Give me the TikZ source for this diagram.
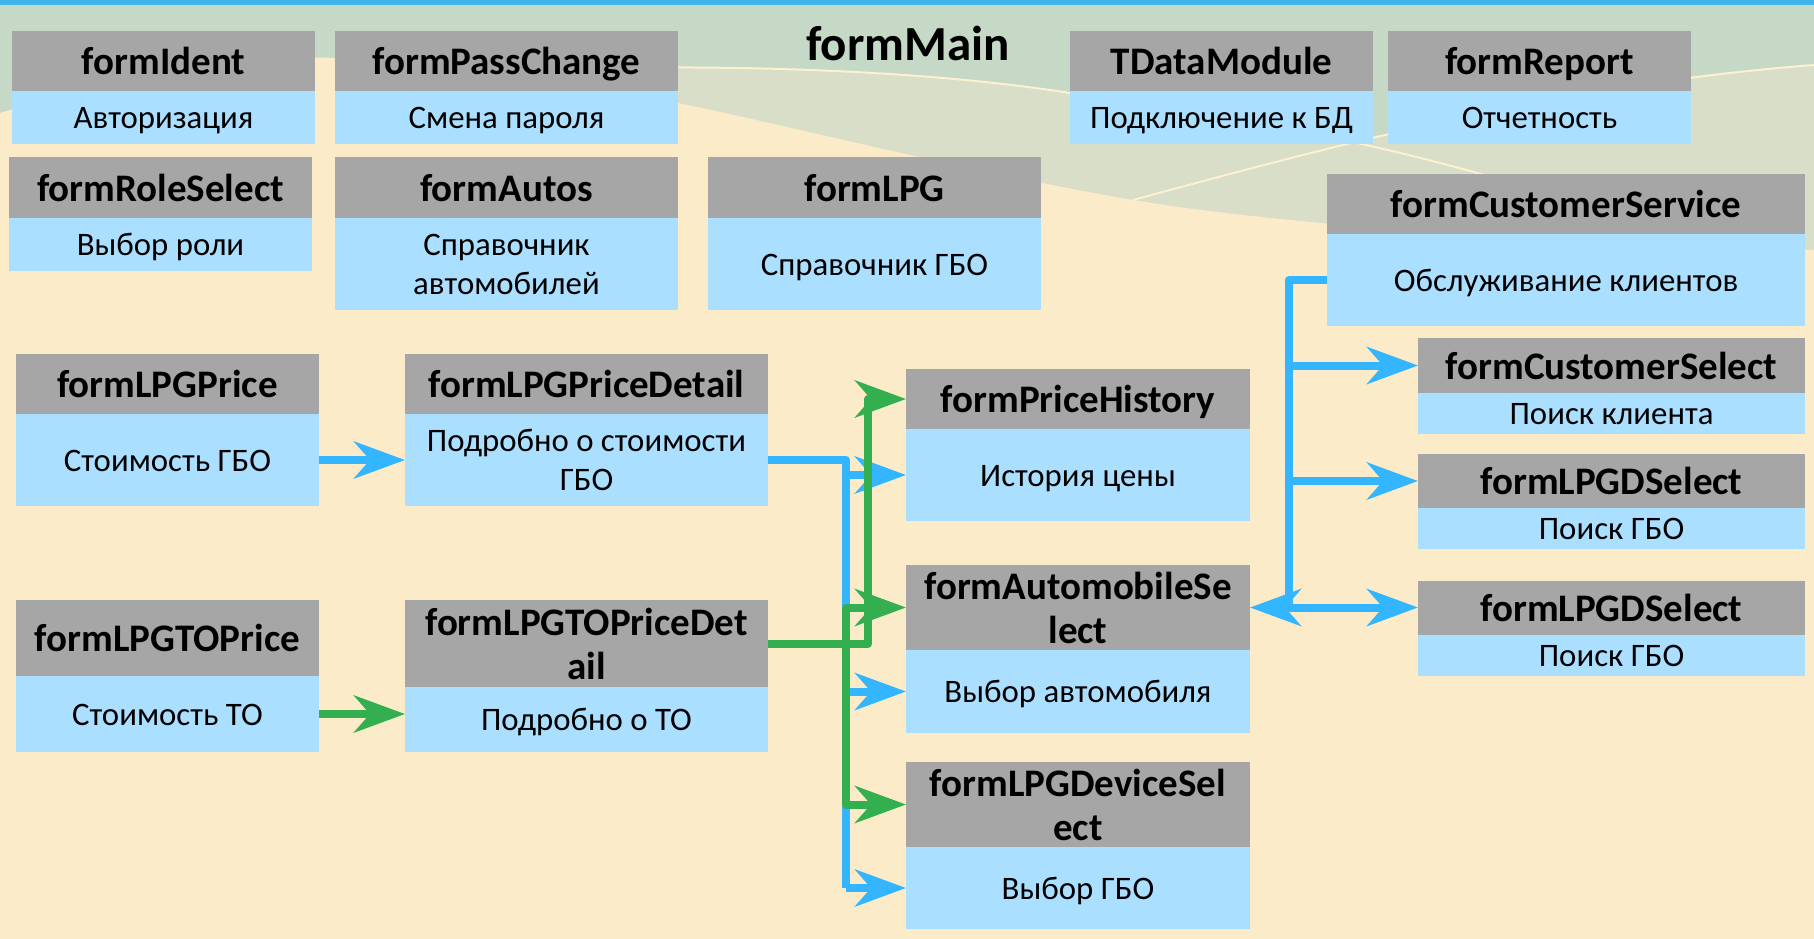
\documentclass[tikz,border=0pt]{standalone}
\usepackage{fontspec}
\setmainfont{Carlito}
\usetikzlibrary{arrows.meta}
\definecolor{bgGreen}{HTML}{C6D8C6}
\definecolor{bgLight}{HTML}{D8DEC8}
\definecolor{bgCream}{HTML}{FCEBC8}
\definecolor{bgLine}{HTML}{FDF1D2}
\definecolor{topBlue}{HTML}{41B3EB}
\definecolor{hdrGray}{HTML}{A6A6A6}
\definecolor{bodyBlue}{HTML}{AADFFF}
\definecolor{lnBlue}{HTML}{33B5FF}
\definecolor{lnGreen}{HTML}{33AF50}
\newcommand\fixh[1]{\raisebox{0pt}[0.7em][0pt]{#1}}
\newcommand\formbox[8]{%
  \node[hdr, minimum width={#3-#2}, minimum height={#5-#4}] (#1h) at (#2,#4) {#7};
  \node[bdy, minimum width={#3-#2}, minimum height={#6-#5}] (#1b) at (#2,#5) {#8};
}
\tikzset{
  hdr/.style={fill=hdrGray, inner sep=0pt, outer sep=0pt, align=center, anchor=north west,
    font=\bfseries\fontsize{39}{44}\selectfont},
  bdy/.style={fill=bodyBlue, inner sep=0pt, outer sep=0pt, align=center, anchor=north west,
    font=\fontsize{32.8}{39}\selectfont},
  bline/.style={draw=lnBlue, line width=8pt, line join=round},
  gline/.style={draw=lnGreen, line width=8pt, line join=round},
  bconn/.style={bline, -{Stealth[length=51pt,width=37pt,inset=16pt]}},
  gconn/.style={gline, -{Stealth[length=51pt,width=37pt,inset=16pt]}},
  bdbl/.style={bline, {Stealth[length=51pt,width=37pt,inset=16pt]}-{Stealth[length=51pt,width=37pt,inset=16pt]}},
  bgline/.style={draw=bgLine, line width=2pt}
}
\begin{document}
\begin{tikzpicture}[x=1pt,y=-1pt]
\useasboundingbox (0,0) rectangle (1814,939);
% background
\fill[bgGreen] (0,0) rectangle (1814,939);
\fill[bgLight] (600,68) .. controls (850,64) and (1000,82) .. (1070,93)
  .. controls (1180,108) and (1280,125) .. (1357,143)
  .. controls (1500,105) and (1650,75) .. (1814,65) -- (1814,400) -- (600,400) -- cycle;
\fill[bgCream] (0,113) .. controls (120,75) and (250,55) .. (340,58)
  .. controls (450,62) and (550,80) .. (678,103)
  .. controls (800,128) and (950,168) .. (1133,200)
  .. controls (1300,228) and (1600,245) .. (1814,250) -- (1814,939) -- (0,939) -- cycle;
\draw[bgline] (600,68) .. controls (850,64) and (1000,82) .. (1070,93)
  .. controls (1180,108) and (1280,125) .. (1357,143)
  .. controls (1420,157) and (1460,168) .. (1520,185);
\draw[bgline] (1133,200) .. controls (1300,155) and (1550,85) .. (1814,65);
\fill[topBlue] (0,0) rectangle (1814,5);
% title
\node[font=\bfseries\fontsize{49}{55}\selectfont, inner sep=0pt] (mainT) at (908,43) {\fixh{formMain}};
% boxes
\formbox{ident}{12}{315}{31}{91}{144}{\fixh{formIdent}}{\fixh{Авторизация}}
\formbox{pass}{335}{678}{31}{91}{144}{\fixh{formPassChange}}{\fixh{Смена пароля}}
\formbox{dm}{1070}{1373}{31}{91}{144}{\fixh{TDataModule}}{\fixh{Подключение к БД}}
\formbox{rep}{1388}{1691}{31}{91}{144}{\fixh{formReport}}{\fixh{Отчетность}}
\formbox{role}{9}{312}{157}{218}{271}{\fixh{formRoleSelect}}{\fixh{Выбор роли}}
\formbox{autos}{335}{678}{157}{218}{310}{\fixh{formAutos}}{Справочник\\автомобилей}
\formbox{lpg}{708}{1041}{157}{218}{310}{\fixh{formLPG}}{\fixh{Справочник ГБО}}
\formbox{cs}{1327}{1805}{174}{234}{326}{\fixh{formCustomerService}}{\fixh{Обслуживание клиентов}}
\formbox{lp}{16}{319}{354}{414}{506}{\fixh{formLPGPrice}}{\fixh{Стоимость ГБО}}
\formbox{lpd}{405}{768}{354}{414}{506}{\fixh{formLPGPriceDetail}}{Подробно о стоимости\\ГБО}
\formbox{tp}{16}{319}{600}{676}{752}{\fixh{formLPGTOPrice}}{\fixh{Стоимость ТО}}
\formbox{tod}{405}{768}{600}{687}{752}{formLPGTOPriceDet\\ail}{\fixh{Подробно о ТО}}
\formbox{ph}{906}{1250}{369}{429}{521}{\fixh{formPriceHistory}}{\fixh{История цены}}
\formbox{as}{906}{1250}{565}{650}{733}{formAutomobileSe\\lect}{\fixh{Выбор автомобиля}}
\formbox{ds}{906}{1250}{762}{847}{929}{formLPGDeviceSel\\ect}{\fixh{Выбор ГБО}}
\formbox{sel}{1418}{1805}{338}{393}{434}{\fixh{formCustomerSelect}}{\fixh{Поиск клиента}}
\formbox{dA}{1418}{1805}{454}{508}{549}{\fixh{formLPGDSelect}}{\fixh{Поиск ГБО}}
\formbox{dB}{1418}{1805}{581}{635}{676}{\fixh{formLPGDSelect}}{\fixh{Поиск ГБО}}
% junction columns
\coordinate (vb) at (846,0);
\coordinate (vg) at (868,0);
\coordinate (vc) at (1289,0);
% blue connectors
\draw[bconn] (lpb.east) -- (lpdb.west);
\draw[bline] (lpdb.east) -| (vb |- dsb.west);
\draw[bconn] (vb |- phb.west) -- (phb.west);
\draw[bconn] (vb |- asb.west) -- (asb.west);
\draw[bconn] (vb |- dsb.west) -- (dsb.west);
\draw[bline] (csb.west) -| (vc |- dBh.west);
\draw[bconn] (vc |- selh.west) -- (selh.west);
\draw[bconn] (vc |- dAh.west) -- (dAh.west);
\draw[bdbl] (ash.east) -- (ash.east -| dBh.west);
% green connectors
\draw[gconn] (tpb.east) -- (tpb.east -| todb.west);
\draw[gconn] (todh.east) -| (vg |- phh.west) -- (phh.west);
\draw[gconn] (vb |- todh.east) |- (ash.west);
\draw[gconn] (vb |- todh.east) |- (dsh.west);
\end{tikzpicture}
\end{document}
